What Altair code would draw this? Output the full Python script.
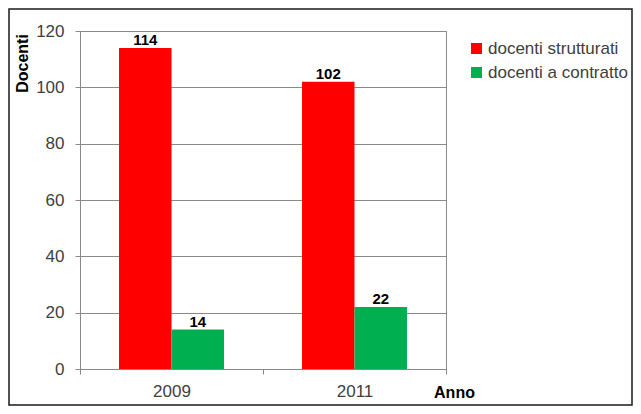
import altair as alt
import pandas as pd

years = ["2009", "2011"]
series_names = ["docenti strutturati", "docenti a contratto"]
strutturati = [114, 102]
contratto = [14, 22]
colors = ["#FF0000", "#00B050"]
y_ticks = [0, 20, 40, 60, 80, 100, 120]

rows = []
for i, yr in enumerate(years):
    rows.append({"Anno": yr, "Serie": series_names[0], "Docenti": strutturati[i]})
    rows.append({"Anno": yr, "Serie": series_names[1], "Docenti": contratto[i]})
df = pd.DataFrame(rows)

W, H = 366, 338
FONT = "Liberation Sans"
GRAY = "#898989"

x = alt.X(
    "Anno:N",
    sort=years,
    scale=alt.Scale(paddingInner=0, paddingOuter=0),
    axis=alt.Axis(
        title="Anno", titleFont=FONT, titleFontWeight="bold", titleFontSize=16,
        titleColor="#000000", titleX=374, titleY=23, titleAlign="center",
        titleBaseline="middle",
        labelAngle=0, labelFont=FONT, labelFontSize=17, labelColor="#404040",
        labelPadding=9, tickBand="extent", tickSize=5, tickColor=GRAY,
        domainColor=GRAY, grid=False,
    ),
)
xo = alt.XOffset(
    "Serie:N", sort=series_names,
    scale=alt.Scale(paddingInner=0, paddingOuter=0.743),
)
y = alt.Y(
    "Docenti:Q",
    scale=alt.Scale(domain=[0, 120], nice=False),
    axis=alt.Axis(
        values=y_ticks, title="Docenti", titleFont=FONT, titleFontWeight="bold",
        titleFontSize=16, titleColor="#000000", titleAngle=-90, titleX=-57.5,
        titleY=32, titleAlign="center", titleBaseline="middle",
        labelFont=FONT, labelFontSize=17, labelColor="#404040", labelPadding=11,
        tickSize=5, tickColor=GRAY, domainColor=GRAY, grid=True,
        gridColor=GRAY, gridWidth=1,
    ),
)
color = alt.Color(
    "Serie:N", sort=series_names,
    scale=alt.Scale(domain=series_names, range=colors),
    legend=alt.Legend(
        title=None, orient="none", legendX=388, legendY=9, symbolType="square",
        symbolSize=121, symbolStrokeWidth=0, labelFont=FONT, labelFontSize=17,
        labelColor="#404040", rowPadding=6, padding=0, labelOffset=3,
        labelLimit=200,
    ),
)

bars = alt.Chart(df).mark_bar().encode(x=x, xOffset=xo, y=y, color=color)
labels = alt.Chart(df).mark_text(
    baseline="alphabetic", dy=-3, font=FONT, fontSize=15, fontWeight="bold",
    color="#000000",
).encode(x=x, xOffset=xo, y=y, text="Docenti:Q")

frame = alt.Chart(pd.DataFrame({"k": [0]})).mark_rect(
    fillOpacity=0, stroke="#1a1a1a", strokeWidth=1.5,
).encode(
    x=alt.value(-71), x2=alt.value(W + 186), y=alt.value(-22), y2=alt.value(H + 36),
)

chart = alt.layer(bars, labels, frame).properties(
    width=W, height=H,
    padding={"left": 72, "top": 23, "right": 187, "bottom": 37},
    autosize=alt.AutoSizeParams(type="none"),
    background="white",
).configure_view(stroke=GRAY, strokeWidth=1)

chart.save("out.html", embed_options={"renderer": "svg", "actions": False})
